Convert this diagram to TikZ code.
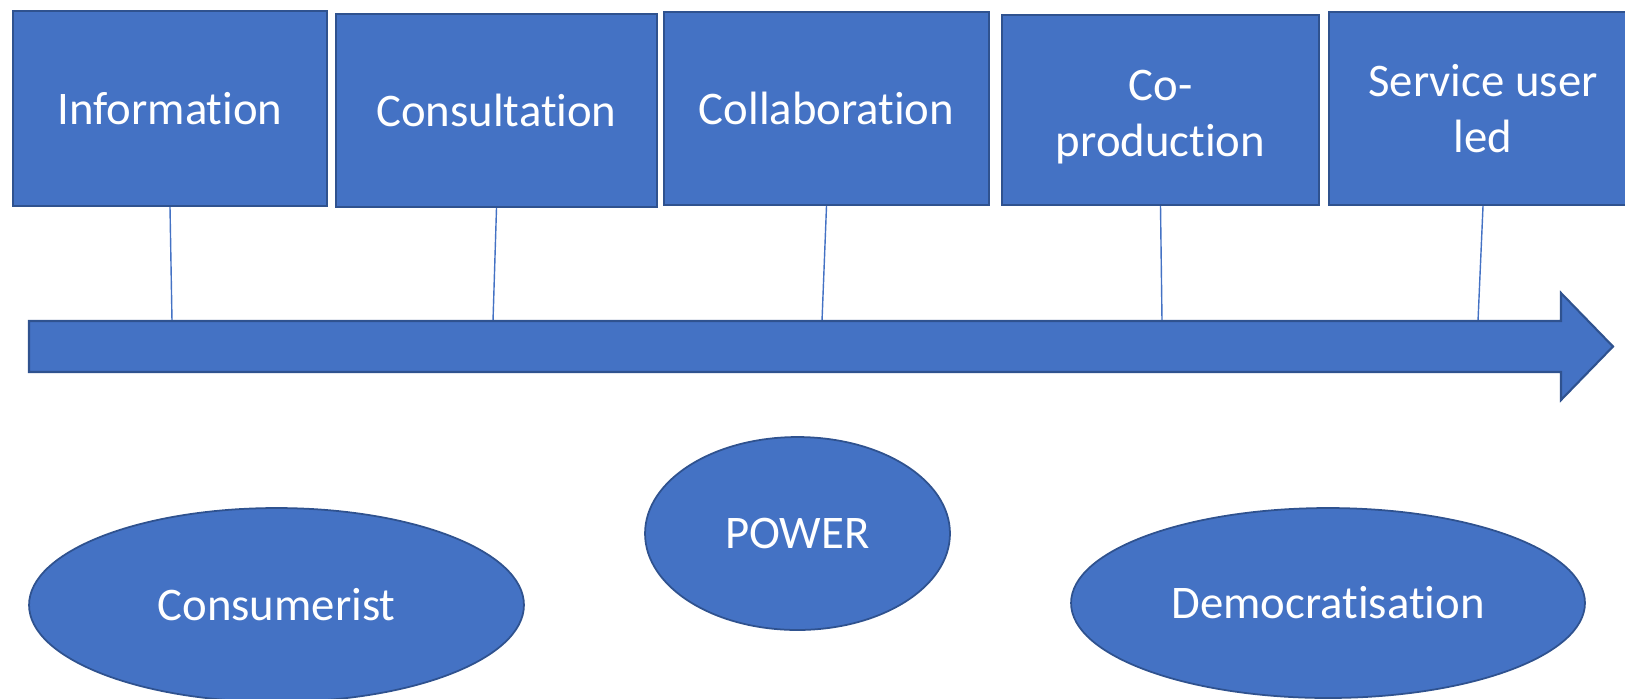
\documentclass[tikz,border=0pt]{standalone}
\usepackage{fontspec}
\setmainfont{Carlito}[Ligatures={NoCommon,NoContextual},Contextuals=NoAlternate]
\usetikzlibrary{shapes.geometric}
\definecolor{fillblue}{HTML}{4472C4}
\definecolor{edgeblue}{HTML}{2F528F}
\newcommand{\tsep}{t\kern0pt i}
\begin{document}
\begin{tikzpicture}[x=0.02cm,y=-0.02cm,
  stagebox/.style={draw=edgeblue,fill=fillblue,line width=1.2pt,text=white,inner sep=0pt,align=center,
    font=\fontsize{26.6}{32.3}\selectfont},
  boxtext/.style={text=white,inner sep=0pt,align=center,font=\fontsize{26.6}{32.3}\selectfont},
  oval/.style={ellipse,draw=edgeblue,fill=fillblue,line width=1pt,text=white,inner sep=0pt,
    font=\fontsize{26.6}{32.3}\selectfont},
  link/.style={draw=fillblue,line width=0.8pt},
  bigarrow/.style={draw=edgeblue,fill=fillblue,line width=1.2pt}]
\useasboundingbox (0,0) rectangle (1625,698);
\clip (0,0) rectangle (1625,698);

\node[stagebox,minimum width=6.28cm,minimum height=3.9cm] (b1) at (170,108.5) {Informa\tsep on};
\node[stagebox,minimum width=6.42cm,minimum height=3.86cm] (b2) at (496.5,110.5) {Consulta\tsep on};
\node[stagebox,minimum width=6.5cm,minimum height=3.86cm] (b3) at (826.5,108.5) {Collabora\tsep on};
\node[stagebox,minimum width=6.34cm,minimum height=3.8cm,
  label={[boxtext,yshift=-0.14cm]center:Co-\\production}] (b4) at (1160.5,110) {};
\node[stagebox,minimum width=6.16cm,minimum height=3.86cm] (b5) at (1483,108.5) {Service user\\led};

\coordinate (a1) at (172,321);
\coordinate (a2) at (493,321);
\coordinate (a3) at (822,321);
\coordinate (a4) at (1162,321);
\coordinate (a5) at (1478,321);

\draw[link] (b1.south) -- (a1);
\draw[link] (b2.south) -- (a2);
\draw[link] (b3.south) -- (a3);
\draw[link] (b4.south) -- (a4);
\draw[link] (b5.south) -- (a5);

\draw[bigarrow] (29,321) -- (1561,321) -- (1561,293) -- (1613,346.5) -- (1561,400) -- (1561,372) -- (29,372) -- cycle;

\node[oval,minimum width=9.9cm,minimum height=3.88cm] (e1) at (276.5,605) {Consumerist};
\node[oval,minimum width=6.1cm,minimum height=3.86cm] (e2) at (797.5,533.5) {POWER};
\node[oval,minimum width=10.28cm,minimum height=3.8cm] (e3) at (1328,603) {Democra\tsep sation};
\end{tikzpicture}
\end{document}
